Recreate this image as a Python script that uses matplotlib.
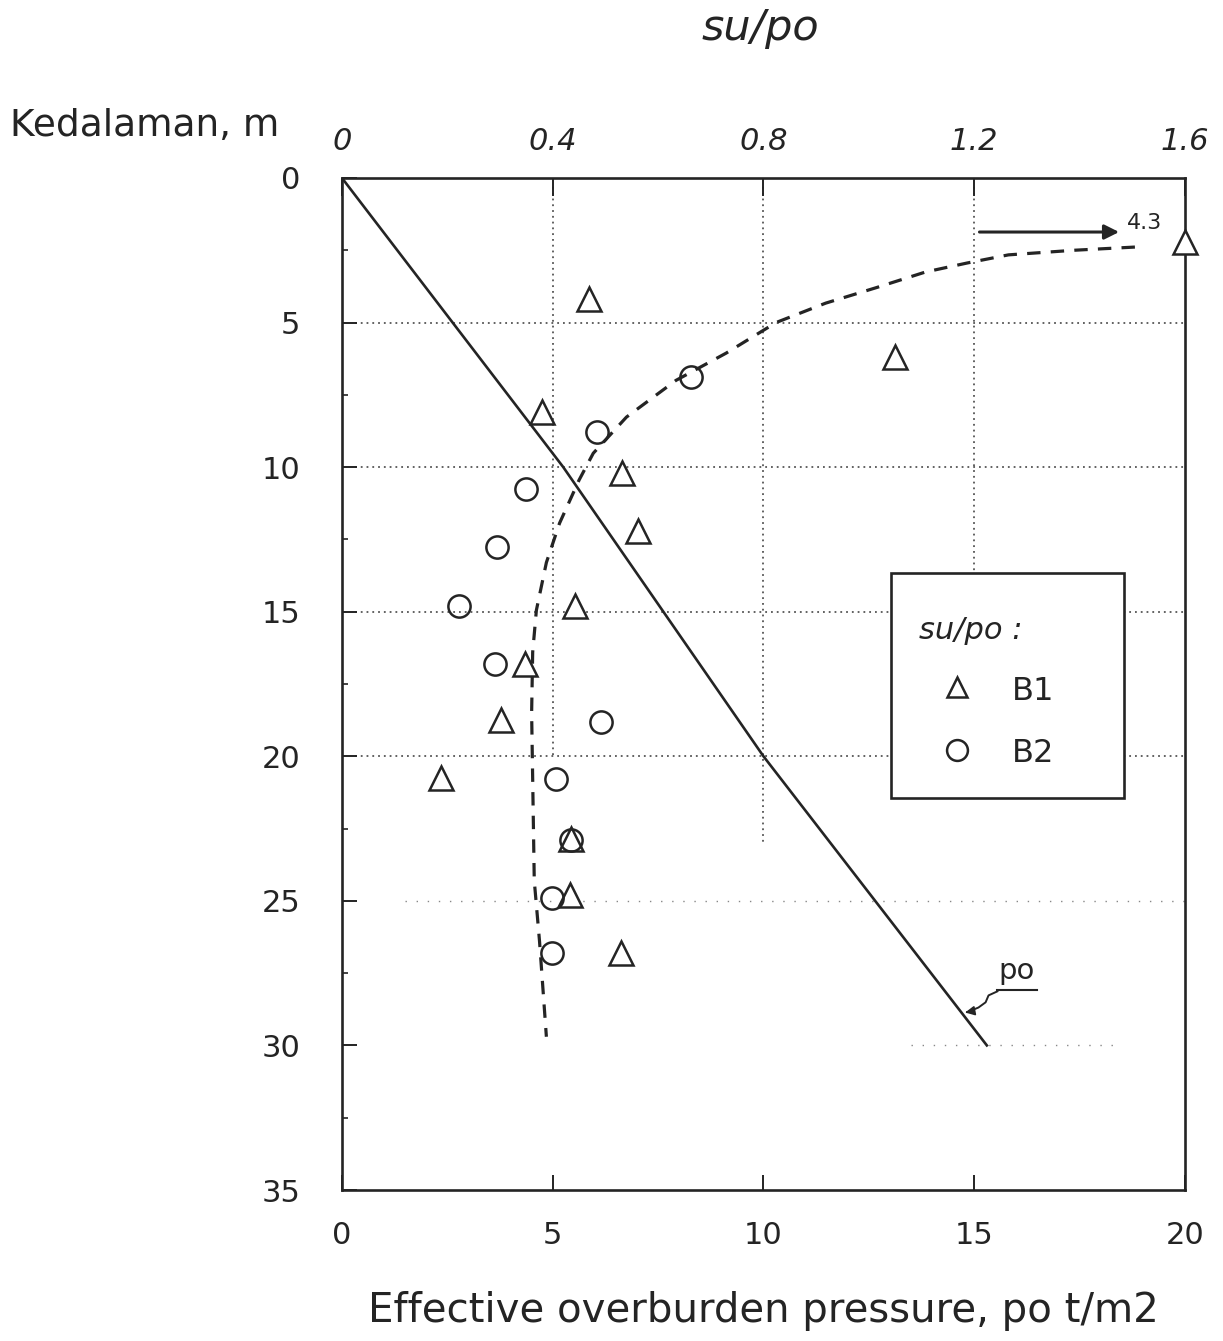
import numpy as np
import matplotlib
matplotlib.use("Agg")
import matplotlib.pyplot as plt
from matplotlib.patches import Rectangle

# ---- data ---------------------------------------------------------------
# effective overburden pressure profile (po, t/m2) vs depth (m)
po_depth = [0, 10, 20, 30]
po_value = [0, 5.25, 10.0, 15.3]

# su/po ratios, borehole B1
b1_depth = [2.2, 4.2, 6.2, 8.1, 10.2, 12.2, 14.8, 16.8, 18.75, 20.75, 22.85, 24.8, 26.8]
b1_ratio = [4.3, 0.468, 1.05, 0.379, 0.532, 0.562, 0.443, 0.347, 0.301, 0.188, 0.434, 0.432, 0.530]

# su/po ratios, borehole B2
b2_depth = [6.9, 8.8, 10.75, 12.75, 14.8, 16.8, 18.8, 20.8, 22.9, 24.9, 26.8]
b2_ratio = [0.663, 0.485, 0.349, 0.295, 0.222, 0.290, 0.492, 0.407, 0.434, 0.398, 0.398]

# hand-fitted su/po trend
trend_depth = [2.39, 2.5, 2.66, 2.94, 3.25, 3.8, 4.33, 5.0, 6.06, 7.0, 8.27, 9.52,
               10.45, 11.94, 13.3, 14.95, 16.4, 18.5, 20.8, 24.3, 26.4, 29.7]
trend_ratio = [1.505, 1.39, 1.265, 1.187, 1.108, 1.013, 0.918, 0.824, 0.729, 0.634, 0.54, 0.477,
               0.45, 0.413, 0.388, 0.369, 0.362, 0.36, 0.362, 0.365, 0.375, 0.388]

depth_ticks = [0, 5, 10, 15, 20, 25, 30, 35]
po_ticks = [0, 5, 10, 15, 20]
ratio_ticks = [0, 0.4, 0.8, 1.2, 1.6]
ratio_ticklabels = ["0", "0.4", "0.8", "1.2", "1.6"]

# ---- style --------------------------------------------------------------
INK = "#242424"
GRID = "#555555"
plt.rcParams["font.family"] = ["DejaVu Sans"]

fig = plt.figure(figsize=(12.23, 13.41), dpi=100)
ax = fig.add_axes([0.2796, 0.1126, 0.6893, 0.7547])
ax.set_xlim(0, 20)
ax.set_ylim(35, 0)

for s in ax.spines.values():
    s.set_linewidth(1.9)
    s.set_color(INK)

ax.set_xticks(po_ticks)
ax.set_yticks(depth_ticks)
ax.set_yticks(np.arange(0, 35.1, 2.5), minor=True)
ax.tick_params(axis="x", which="major", direction="in", length=11, width=1.4,
               colors=INK, labelsize=22, pad=22)
ax.tick_params(axis="y", which="major", direction="in", length=11, width=1.4,
               colors=INK, labelsize=22, pad=30)
ax.tick_params(axis="y", which="minor", direction="in", length=4, width=1.2, colors=INK)
ax.tick_params(axis="x", which="minor", bottom=False)

# dotted reference grid
grid_kw = dict(color=GRID, linestyle=(0, (1, 2.2)), linewidth=1.3, zorder=1)
for d in [5, 10, 15, 20]:
    ax.hlines(d, 0.3, 20, **grid_kw)
sparse_kw = dict(color="#888888", linestyle=(0, (1, 7)), linewidth=1.0, zorder=1)
ax.hlines(25, 1.5, 20, **sparse_kw)
ax.hlines(30, 13.5, 18.5, **sparse_kw)
ax.vlines(5, 0.3, 20, **grid_kw)
ax.vlines(10, 0.3, 23, **grid_kw)
ax.vlines(15, 0.3, 21, **grid_kw)

# po profile
ax.plot(po_value, po_depth, color=INK, lw=1.9, zorder=3)

# po label with wavy leader
ax.text(16.0, 27.7, "po", fontsize=21, color=INK, ha="center", va="baseline")
ax.plot([15.55, 16.5], [28.1, 28.1], color=INK, lw=1.5)
lead_x = [15.55, 15.34, 15.27, 15.1, 14.85]
lead_y = [28.13, 28.27, 28.51, 28.69, 28.84]
ax.plot(lead_x, lead_y, color=INK, lw=1.4)
ax.annotate("", xy=(14.72, 28.88), xytext=(14.9, 28.83),
            arrowprops=dict(arrowstyle="-|>", color=INK, lw=1.2, mutation_scale=14))

ax.set_xlabel("Effective overburden pressure, po t/m2", fontsize=29, color=INK, labelpad=30)

# ---- su/po axis on top --------------------------------------------------
ax2 = ax.twiny()
ax2.set_xlim(0, 1.6)
ax2.set_ylim(35, 0)
for s in ax2.spines.values():
    s.set_visible(False)
ax2.set_xticks(ratio_ticks)
ax2.set_xticklabels(ratio_ticklabels, fontstyle="italic")
ax2.tick_params(axis="x", direction="in", length=13, width=1.4, colors=INK,
                labelsize=22, pad=16)

xmax = ax2.get_xlim()[1]
ax2.plot(np.minimum(b1_ratio, xmax), b1_depth, linestyle="none", marker="^",
         markersize=17, markerfacecolor="white", markeredgecolor=INK,
         markeredgewidth=1.8, clip_on=False, zorder=5)
ax2.plot(b2_ratio, b2_depth, linestyle="none", marker="o",
         markersize=16, markerfacecolor="none", markeredgecolor=INK,
         markeredgewidth=1.8, zorder=5)
ax2.plot(trend_ratio, trend_depth, color=INK, lw=2.3, linestyle=(0, (4.2, 3.2)), zorder=4)

# off-scale B1 value
ax2.annotate("", xy=(1.475, 1.87), xytext=(1.21, 1.87),
             arrowprops=dict(arrowstyle="-|>", color=INK, lw=2.2, mutation_scale=22,
                             shrinkA=0, shrinkB=0))
ax2.text(1.49, 1.55, f"{b1_ratio[0]:.1f}", fontsize=16, color=INK, ha="left", va="center")

# ---- legend box ---------------------------------------------------------
ax.add_patch(Rectangle((0.651, 0.387), 0.277, 0.223, transform=ax.transAxes,
                       facecolor="white", edgecolor=INK, lw=1.9, zorder=6))
ax.text(0.685, 0.553, "su/po :", transform=ax.transAxes, fontsize=22,
        fontstyle="italic", color=INK, ha="left", va="center", zorder=7)
ax.plot([0.730], [0.497], transform=ax.transAxes, marker="^", markersize=15,
        markerfacecolor="white", markeredgecolor=INK, markeredgewidth=1.8, zorder=7)
ax.text(0.795, 0.493, "B1", transform=ax.transAxes, fontsize=23, color=INK,
        ha="left", va="center", zorder=7)
ax.plot([0.730], [0.435], transform=ax.transAxes, marker="o", markersize=15,
        markerfacecolor="white", markeredgecolor=INK, markeredgewidth=1.8, zorder=7)
ax.text(0.795, 0.431, "B2", transform=ax.transAxes, fontsize=23, color=INK,
        ha="left", va="center", zorder=7)

# ---- headings -----------------------------------------------------------
fig.text(0.622, 0.979, "su/po", fontsize=31, fontstyle="italic", color=INK,
         ha="center", va="center")
fig.text(0.008, 0.906, "Kedalaman, m", fontsize=27, color=INK, ha="left", va="center")

fig.savefig("out.png", dpi=100, facecolor="white")
